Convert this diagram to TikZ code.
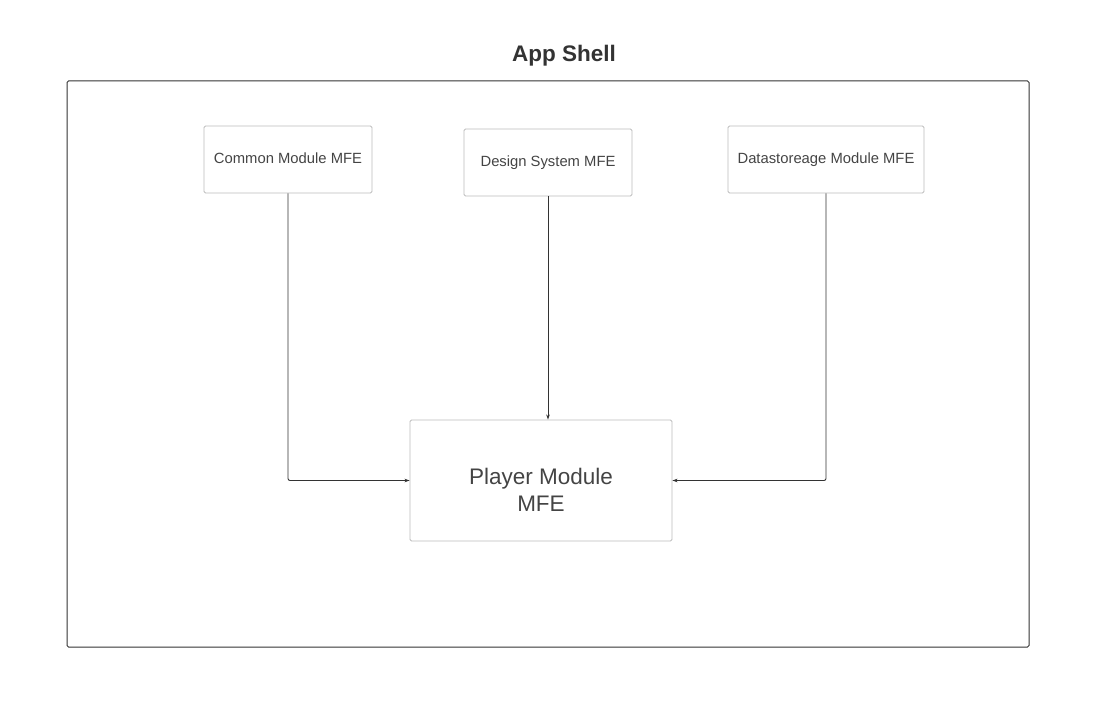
\documentclass[tikz,border=0pt]{standalone}
\usepackage{fontspec}
\setmainfont{Liberation Sans}
\usetikzlibrary{arrows.meta}
\definecolor{txt}{HTML}{444444}
\definecolor{bord}{HTML}{BBBBBB}
\definecolor{ln}{HTML}{333333}
\begin{document}
\begin{tikzpicture}[x=1pt,y=-1pt,
  mbox/.style={draw=bord, line width=0.9pt, rounded corners=1.5pt, inner sep=0pt},
  mlabel/.style={text=txt, font=\fontsize{14.8}{17}\selectfont, text height=10.6pt, text depth=3.1pt, inner sep=0pt},
  conn/.style={draw=ln, line width=0.9pt, rounded corners=2pt, -{Stealth[length=5pt,width=3.5pt]}}]
\useasboundingbox (0,0) rectangle (1101,719);
\node[draw=ln, line width=1pt, rounded corners=1.5pt, minimum width=962pt, minimum height=566pt, inner sep=0pt] (shell) at (548,364) {};
\node[font=\bfseries\fontsize{22.5}{26}\selectfont, text=ln] (title) at (564,56) {App Shell};
\node[mbox, minimum width=168pt, minimum height=67pt] (common) at (288,159.5) {};
\node[mlabel] (commont) at (288,160) {Common Module MFE};
\node[mbox, minimum width=168pt, minimum height=67pt] (design) at (548,162.5) {};
\node[mlabel] (designt) at (548,163) {Design System MFE};
\node[mbox, minimum width=196pt, minimum height=67pt] (data) at (826,159.5) {};
\node[mlabel] (datat) at (826,160) {Datastoreage Module MFE};
\node[mbox, minimum width=262pt, minimum height=121pt] (player) at (541,480.5) {};
\node[text=txt, align=center, font=\fontsize{22.5}{27}\selectfont] (playert) at (541,490) {Player Module\\MFE};
\draw[conn] (common.south) |- (player.west);
\draw[conn] (design.south) -- (design.south |- player.north);
\draw[conn] (data.south) |- (player.east);
\end{tikzpicture}
\end{document}
